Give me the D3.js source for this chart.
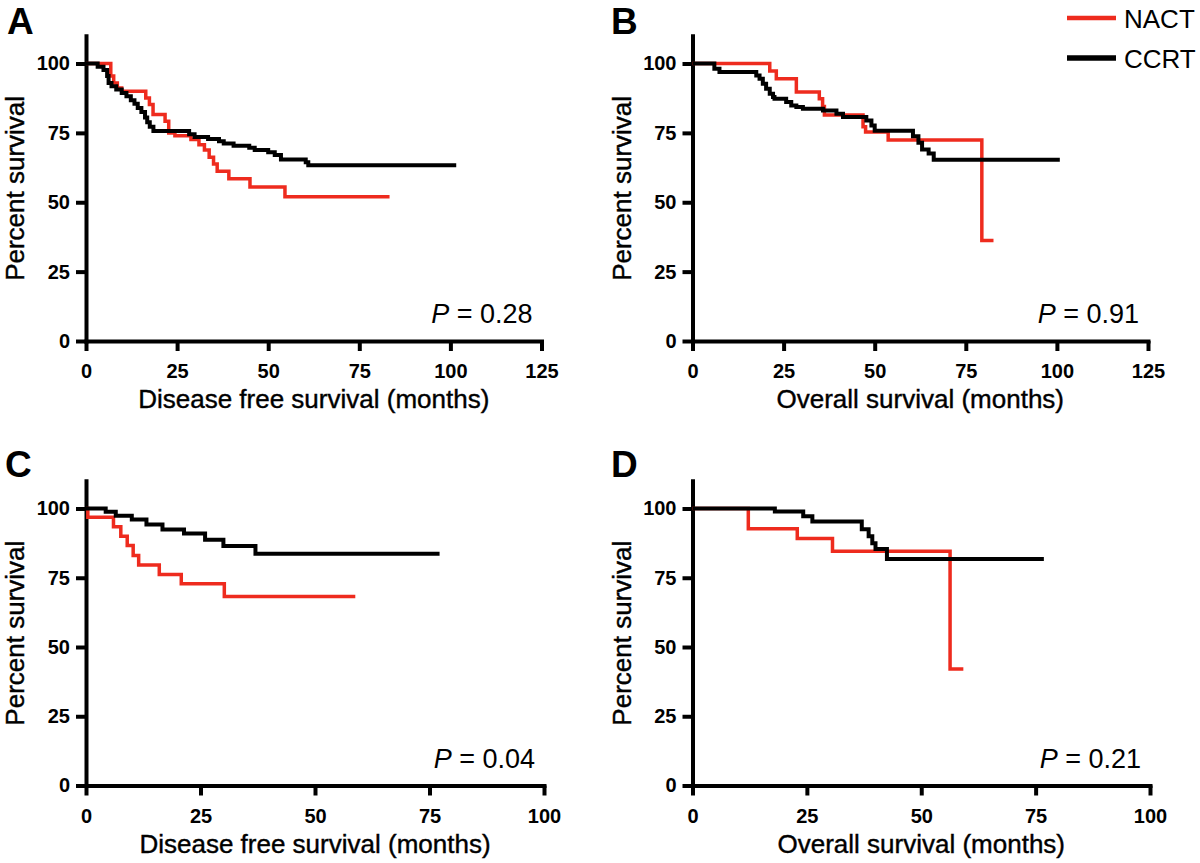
<!DOCTYPE html>
<html><head><meta charset="utf-8">
<script src="https://cdn.jsdelivr.net/npm/d3@7"></script>
<style>
body{margin:0;background:#fff;}
svg{display:block;font-family:"Liberation Sans",Arial,Helvetica,sans-serif;}
</style>
</head><body>
<svg id="chart" width="1200" height="863"></svg>
<script>
// ---------- data ----------
const seriesNames = ["NACT", "CCRT"];
const panelLetters = ["A", "B", "C", "D"];
const xTitles = ["Disease free survival (months)", "Overall survival (months)",
                 "Disease free survival (months)", "Overall survival (months)"];
const yTitle = "Percent survival";
const pValues = ["0.28", "0.91", "0.04", "0.21"];
const xTicksTop = [0, 25, 50, 75, 100, 125];
const xTicksBottom = [0, 25, 50, 75, 100];
const yTicks = [0, 25, 50, 75, 100];

// Kaplan-Meier steps: [month, percent survival after step]; last pair = end of follow-up
const nactA = [[0,100],[6.8,95.5],[7.6,93],[8.6,91.2],[9.8,90],[16.4,87.6],[17.4,85.2],[18.4,81.6],
  [21.7,79.2],[22.7,75],[24.4,74],[28.8,72.6],[31,70.7],[32.5,68.8],[33.8,66.2],[35,63.8],[36,61.2],
  [39.2,58.5],[45,55.5],[54.6,52],[83.3,52]];
const ccrtA = [[0,100],[3.2,98.8],[4.8,97.7],[5.8,95.5],[6.2,93],[7,91.8],[8.3,90.6],[9.8,89.4],
  [11.1,88.2],[12.3,86.8],[13.3,85.5],[14.2,84],[15.2,82.5],[16.2,80.5],[16.8,78.8],[17.5,77.2],
  [18.5,75.7],[28.3,74.5],[29.8,73.5],[33.5,72.8],[36.5,72],[37.8,71.2],[40.5,70.4],[44.8,69.6],
  [46.3,68.8],[50,68],[51.8,67],[53.5,65.4],[60.3,64.4],[61,63.3],[101.6,63.3]];
const nactB = [[0,100],[21.2,97.3],[23,94.5],[28.5,89.7],[34.8,87.3],[35.7,84.5],[36.2,81.4],
  [46.8,77.2],[47.5,75.3],[53.7,72.4],[79.4,36.2],[82.6,36.2]];
const ccrtB = [[0,100],[6,98.1],[7.4,96.9],[17.5,95.7],[18.4,94.5],[19.3,92.7],[20.2,90.9],[21.2,89.1],
  [22.1,87.9],[22.5,87.3],[25.7,86.1],[27.1,84.9],[28.5,84.3],[30.3,83.7],[35.8,83.1],[39.5,81.9],
  [41.3,80.7],[47.7,79.5],[49.1,77.7],[50,75.8],[60.5,73.8],[62,71.4],[63,69],[64.8,67.6],[66.2,65.3],
  [100.8,65.3]];
const nactC = [[0,100],[0.4,96.8],[6,93.4],[7.6,90],[9,86.6],[10.3,83],[11.5,79.6],[16,76.2],
  [20.8,72.8],[30.2,68.2],[58.8,68.2]];
const ccrtC = [[0,100],[4.3,98.8],[6.5,97.4],[10,96],[13.2,94.2],[16.7,92.4],[21.4,91],[26,88.7],
  [30,86.5],[37,83.7],[77.2,83.7]];
const nactD = [[0,100],[12.2,92.7],[22.9,89.2],[30.6,84.6],[56.3,42.1],[59.2,42.1]];
const ccrtD = [[0,100],[18,98.9],[24.2,97.2],[26.2,95.3],[37,92.5],[38.5,90],[39.3,87.5],[40,85.4],
  [42.5,81.8],[76.8,81.8]];

const nactSets = [nactA, nactB, nactC, nactD];
const ccrtSets = [ccrtA, ccrtB, ccrtC, ccrtD];

// ---------- layout ----------
const RED = "#ee2b1e", BLACK = "#000";
const layout = [
  {left: 86,    right: 541.5, bottom: 341,   top100: 63.5,  xMax: 125, ticks: xTicksTop,    lx: 7,   ly: 34},
  {left: 692.5, right: 1148,  bottom: 341,   top100: 63.5,  xMax: 125, ticks: xTicksTop,    lx: 611, ly: 34},
  {left: 86,    right: 544,   bottom: 785.5, top100: 508.5, xMax: 100, ticks: xTicksBottom, lx: 5,   ly: 477},
  {left: 692.5, right: 1150,  bottom: 785.5, top100: 508.5, xMax: 100, ticks: xTicksBottom, lx: 611, ly: 477}
];

const svg = d3.select("#chart");

layout.forEach((L, i) => {
  const g = svg.append("g");
  const x = d3.scaleLinear().domain([0, L.xMax]).range([L.left, L.right]);
  const y = d3.scaleLinear().domain([0, 100]).range([L.bottom, L.top100]);
  const yTopVal = 110;

  // y axis
  const yAxisScale = d3.scaleLinear().domain([0, yTopVal]).range([L.bottom, y(yTopVal)]);
  const ya = g.append("g").attr("transform", `translate(${L.left},0)`)
    .call(d3.axisLeft(yAxisScale).tickValues(yTicks).tickSize(10).tickSizeOuter(0).tickPadding(6));
  // x axis
  const xa = g.append("g").attr("transform", `translate(0,${L.bottom})`)
    .call(d3.axisBottom(x).tickValues(L.ticks).tickSize(10).tickSizeOuter(0).tickPadding(8));
  [ya, xa].forEach(a => {
    a.select(".domain").attr("stroke", BLACK).attr("stroke-width", 4).attr("stroke-linecap", "square");
    a.selectAll(".tick line").attr("stroke", BLACK).attr("stroke-width", 4);
    a.selectAll(".tick text").attr("fill", BLACK).attr("font-size", 20).attr("font-weight", "bold")
      .attr("font-family", "Liberation Sans, Arial, sans-serif");
  });
  xa.selectAll(".tick text").attr("dy", "0.95em");

  // curves
  const line = d3.line().x(d => x(d[0])).y(d => y(d[1])).curve(d3.curveStepAfter);
  g.append("path").datum(nactSets[i]).attr("d", line)
    .attr("fill", "none").attr("stroke", RED).attr("stroke-width", 3.5).attr("stroke-linejoin", "miter");
  g.append("path").datum(ccrtSets[i]).attr("d", line)
    .attr("fill", "none").attr("stroke", BLACK).attr("stroke-width", 4).attr("stroke-linejoin", "miter");

  // titles
  g.append("text").attr("x", (L.left + L.right) / 2).attr("y", L.bottom + 67)
    .attr("text-anchor", "middle").attr("font-size", 26)
    .attr("stroke", BLACK).attr("stroke-width", 0.4).text(xTitles[i]);
  const yMid = (L.bottom + yAxisScale(yTopVal)) / 2;
  g.append("text").attr("transform", `translate(${L.left - 62},${yMid}) rotate(-90)`)
    .attr("text-anchor", "middle").attr("font-size", 26)
    .attr("stroke", BLACK).attr("stroke-width", 0.4).text(yTitle);

  // P value
  const pt = g.append("text").attr("x", L.right - 9).attr("y", L.bottom - 18)
    .attr("text-anchor", "end").attr("font-size", 27);
  pt.append("tspan").attr("font-style", "italic").text("P");
  pt.append("tspan").text(" = " + pValues[i]);

  // panel letter
  svg.append("text").attr("x", L.lx).attr("y", L.ly).attr("font-size", 37)
    .attr("font-weight", "bold").text(panelLetters[i]);
});

// legend
const legendColors = [RED, BLACK];
const legendY = [18, 58];
const legendW = [4.5, 5.5];
seriesNames.forEach((name, k) => {
  svg.append("line").attr("x1", 1067).attr("x2", 1116).attr("y1", legendY[k]).attr("y2", legendY[k])
    .attr("stroke", legendColors[k]).attr("stroke-width", legendW[k]);
  svg.append("text").attr("x", 1124).attr("y", legendY[k] + 9.5).attr("font-size", 26).text(name);
});
</script>
</body></html>
